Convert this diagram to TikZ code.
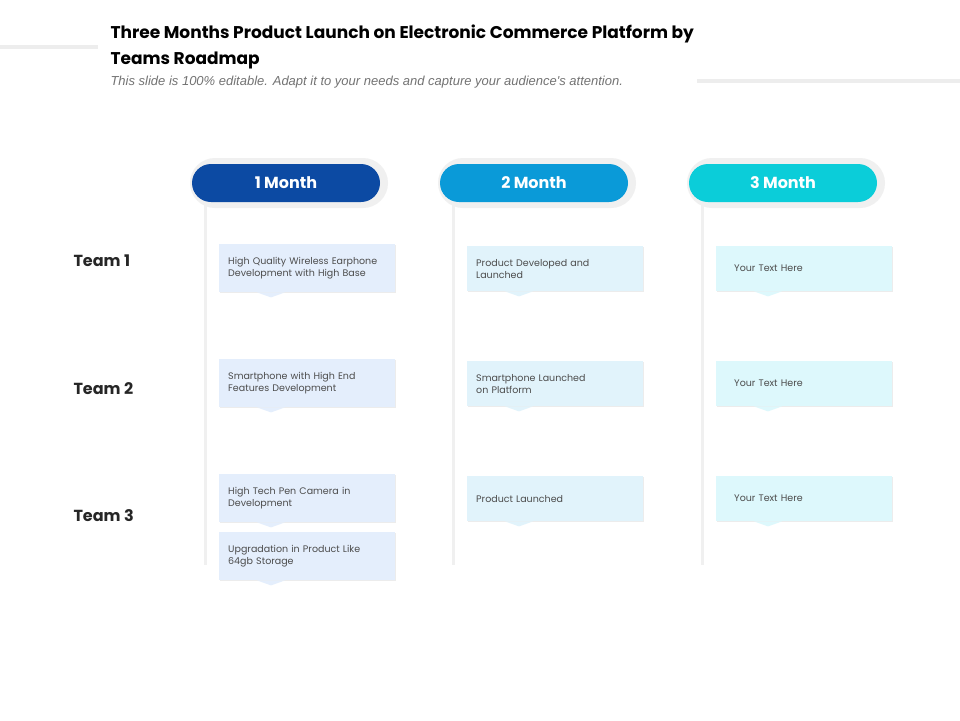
\documentclass[tikz,border=0pt]{standalone}
\usepackage{fontspec}
\setmainfont{Poppins}
\newfontfamily\bodyfont{Liberation Sans}
\usetikzlibrary{positioning,calc,shadows}
\definecolor{monecol}{HTML}{0C4AA3}
\definecolor{mtwocol}{HTML}{0A9AD8}
\definecolor{mthreecol}{HTML}{0BCDD9}
\definecolor{boxone}{HTML}{E4EEFC}
\definecolor{boxtwo}{HTML}{E1F3FB}
\definecolor{boxthree}{HTML}{DDF8FC}
\definecolor{railcol}{HTML}{F0F0F0}
\tikzset{
  pill/.style={rounded corners=19pt,minimum width=188pt,minimum height=38pt,text=white,font=\fontsize{16}{16}\selectfont\bfseries,inner sep=0},
  pillshadow/.style={fill=black!6,rounded corners=25pt},
  teamlbl/.style={anchor=west,font=\fontsize{16}{16}\selectfont\bfseries,text=black!85},
  textbox/.style={anchor=north west,minimum width=176pt,minimum height=48pt,text width=158pt,
    align=left,font=\fontsize{9.5}{12}\selectfont,text=black!70,inner xsep=9pt,
    drop shadow={opacity=0.15,shadow xshift=1pt,shadow yshift=-1pt}},
  yourbox/.style={textbox,minimum height=45pt,inner xsep=18pt,text width=140pt},
}
\begin{document}
\begin{tikzpicture}[x=1pt,y=-1pt]
  \useasboundingbox (0,0) rectangle (960,720);
  \fill[white] (0,0) rectangle (960,720);
  % heading
  \fill[black!7] (0,45) rectangle (98,49);
  \fill[black!7] (697,79) rectangle (960,83);
  \node[anchor=west,font=\fontsize{17}{17}\selectfont\bfseries] (title1) at (107,34) {Three Months Product Launch on Electronic Commerce Platform by};
  \node[anchor=west,font=\fontsize{17}{17}\selectfont\bfseries] (title2) at (107,60) {Teams Roadmap};
  \node[anchor=west,font=\bodyfont\itshape\fontsize{13}{13}\selectfont,text=black!55] (sub) at (107,82) {This slide is 100\% editable. Adapt it to your needs and capture your audience's attention.};
  % rails
  \foreach \x in {205,453,702}
    \fill[railcol] (\x-1.5,200) rectangle (\x+1.5,565);
  % month pills
  \fill[pillshadow] (190,158) rectangle (388,208);
  \fill[pillshadow] (438,158) rectangle (636,208);
  \fill[pillshadow] (687,158) rectangle (885,208);
  \node[pill,fill=monecol] (m1) at (286,183) {1 Month};
  \node[pill,fill=mtwocol] (m2) at (534,183) {2 Month};
  \node[pill,fill=mthreecol] (m3) at (783,183) {3 Month};
  % teams
  \node[teamlbl] (t1) at (70,261) {Team 1};
  \node[teamlbl] (t2) at (70,389) {Team 2};
  \node[teamlbl] (t3) at (70,516) {Team 3};
  % column 1
  \node[textbox,fill=boxone] (a1) at (219,244) {High Quality Wireless Earphone\\Development with High Base};
  \node[textbox,fill=boxone] (a2) at (219,359) {Smartphone with High End\\Features Development};
  \node[textbox,fill=boxone] (a3) at (219,474) {High Tech Pen Camera in\\Development};
  \node[textbox,fill=boxone] (a4) at (219,532) {Upgradation in Product Like\\64gb Storage};
  % column 2
  \node[textbox,fill=boxtwo,minimum height=45pt] (b1) at (467,246) {Product Developed and\\Launched};
  \node[textbox,fill=boxtwo,minimum height=45pt] (b2) at (467,361) {Smartphone Launched\\on Platform};
  \node[textbox,fill=boxtwo,minimum height=45pt] (b3) at (467,476) {Product Launched};
  % column 3
  \node[yourbox,fill=boxthree] (c1) at (716,246) {Your Text Here};
  \node[yourbox,fill=boxthree] (c2) at (716,361) {Your Text Here};
  \node[yourbox,fill=boxthree] (c3) at (716,476) {Your Text Here};
  % notches
  \foreach \n/\c in {a1/boxone,a2/boxone,a3/boxone,a4/boxone,b1/boxtwo,b2/boxtwo,b3/boxtwo,c1/boxthree,c2/boxthree,c3/boxthree}
    \fill[\c] ($(\n.south west)+(38,0)$) -- ($(\n.south west)+(52,5)$) -- ($(\n.south west)+(66,0)$) -- cycle;
\end{tikzpicture}
\end{document}
